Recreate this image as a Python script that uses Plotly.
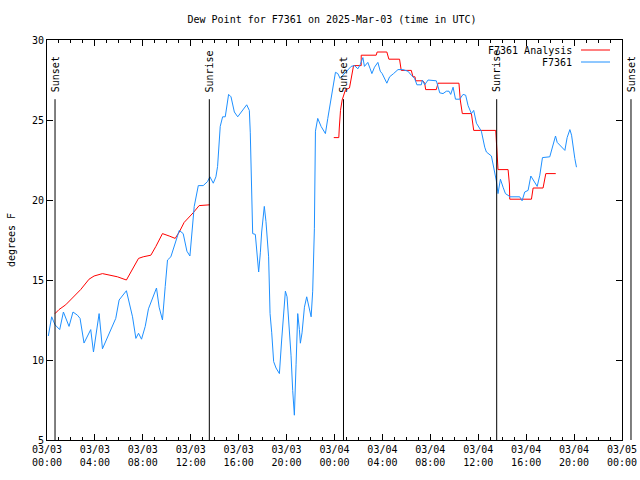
import pandas as pd
import plotly.graph_objects as go

base = pd.Timestamp("2025-03-03 00:00")

# Observations (F7361): hours since 03/03 00:00 UTC, dew point degF
obs_hours = [0.11, 0.39, 0.67, 1.06, 1.37, 1.6, 1.84, 2.17, 2.54, 2.76, 3.09, 3.65, 3.88, 4.35, 4.63,
             5.74, 6.02, 6.63, 7.14, 7.42, 7.64, 7.89, 8.2, 8.47, 9.14, 9.36, 9.64, 9.87, 10.06, 10.34,
             11.04, 11.37, 11.68, 11.93, 12.1, 12.29, 12.63, 13.04, 13.4, 13.6, 13.88, 14.1, 14.24,
             14.46, 14.66, 14.88, 15.16, 15.36, 15.64, 15.92, 16.67, 16.89, 16.97, 17.03, 17.11, 17.17,
             17.39, 17.5, 17.67, 17.81, 17.92, 18.14, 18.28, 18.5, 18.62, 18.76, 18.92, 19.12, 19.4,
             19.59, 19.76, 19.9, 20.04, 20.18, 20.37, 20.51, 20.65, 20.79, 20.93, 21.07, 21.15, 21.29,
             21.49, 21.68, 21.85, 22.05, 22.18, 22.32, 22.41, 22.6, 22.88, 23.24, 23.44, 23.72, 23.94,
             24.08, 24.28, 24.47, 24.64, 24.83, 25.11, 25.39, 25.67, 25.95, 26.14, 26.37, 26.5, 26.64,
             26.78, 26.98, 27.12, 27.34, 27.62, 27.82, 27.98, 28.37, 28.6, 28.93, 29.3, 29.71, 30.13,
             30.41, 30.69, 30.88, 31.25, 31.33, 31.53, 31.81, 32.5, 32.64, 32.78, 33.06, 33.34, 33.56,
             33.7, 33.9, 34.1, 34.45, 34.73, 34.95, 35.15, 35.43, 35.62, 35.85, 36.26, 36.54, 36.68,
             37.1, 37.29, 37.51, 37.65, 37.85, 38.07, 38.27, 38.57, 38.63, 39.46, 39.66, 39.88, 40.16,
             40.39, 40.64, 40.92, 41.14, 41.36, 41.97, 42.2, 42.45, 42.59, 43.09, 43.23, 43.42, 43.65,
             43.79, 43.93, 44.06, 44.2]
obs_values = [11.5, 12.7, 12.2, 11.9, 13.0, 12.6, 12.1, 13.0, 12.8, 12.6, 11.06, 11.9, 10.5, 12.9, 10.7,
              12.6, 13.75, 14.33, 12.7, 11.35, 11.67, 11.3, 12.1, 13.2, 14.5, 13.3, 12.5, 14.6, 16.25, 16.45,
              18.1, 17.9, 16.8, 16.5, 17.9, 19.6, 20.9, 20.9, 21.15, 21.45, 21.05, 21.45, 22.1,
              24.6, 25.2, 25.2, 26.6, 26.45, 25.5, 25.2, 25.95, 25.6, 24.2, 21.7, 19.2, 17.9,
              17.85, 16.7, 15.5, 16.7, 18.0, 19.6, 18.65, 16.45, 12.9, 11.7, 9.9, 9.5, 9.15,
              11.25, 12.7, 14.3, 13.95, 12.5, 10.3, 8.1, 6.55, 9.7, 12.9, 11.9, 11.05, 11.7,
              13.3, 13.95, 13.3, 12.7, 14.3, 18.2, 24.3, 25.1, 24.6, 24.15, 25.1, 26.35, 27.1,
              27.98, 27.9, 27.6, 27.75, 27.9, 28.1, 28.35, 28.4, 28.2, 28.45, 28.9, 28.35, 28.5,
              28.6, 28.2, 27.9, 28.3, 28.6, 28.05, 27.9, 27.3, 27.7, 27.9, 28.15, 28.15, 28.05,
              27.8, 27.6, 27.2, 27.2, 27.5, 27.2, 27.5, 27.45, 27.1, 26.7, 26.65, 26.8, 26.8,
              26.6, 27.05, 26.3, 26.3, 26.6, 26.55, 25.9, 25.4, 25.6, 24.8, 24.3, 23.3, 23.0,
              22.75, 22.1, 21.2, 20.4, 21.3, 20.8, 20.4, 20.25, 20.2, 20.2, 19.95, 20.5, 20.6,
              21.5, 21.15, 20.85, 21.55, 22.65, 22.7, 23.25, 24.0, 23.6, 23.25, 23.1, 23.9, 24.4,
              24.05, 23.1, 22.6, 22.05]

# Analysis (F7361 Analysis); None marks the gap
ana_hours = [0.67, 1.0, 1.56, 2.12, 2.81, 3.51, 3.93, 4.63, 5.18, 5.88, 6.63, 7.14, 7.64, 8.03, 8.67,
             9.09, 9.64, 10.2, 10.7, 11.04, 11.45, 12.2, 12.7, 13.6, 18.0,
             23.94, 24.36, 24.4, 24.5, 24.64, 24.92, 25.25, 25.47, 25.59, 26.23, 26.23, 27.48, 27.56,
             28.37, 28.54, 29.43, 29.57, 30.41, 30.55, 30.72, 30.77, 31.38, 31.53, 31.61, 32.5, 32.64,
             34.39, 34.5, 34.67, 35.43, 35.62, 37.46, 37.52, 37.65, 38.49, 38.6, 38.63, 40.44, 40.58,
             41.41, 41.64, 42.47]
ana_values = [12.9, 13.15, 13.45, 13.85, 14.4, 15.05, 15.25, 15.4, 15.3, 15.2, 15.0, 15.65, 16.35, 16.45, 16.55,
              17.1, 17.9, 17.75, 17.6, 18.0, 18.6, 19.2, 19.65, 19.7, None,
              23.9, 23.9, 24.5, 25.6, 26.25, 26.9, 27.0, 27.9, 28.4, 28.4, 29.05, 29.05, 29.25,
              29.25, 28.8, 28.8, 28.1, 28.1, 27.7, 27.7, 27.45, 27.45, 27.3, 26.9, 26.9, 27.3,
              27.3, 26.25, 25.4, 25.4, 24.35, 24.35, 23.25, 21.9, 21.9, 21.0, 20.05, 20.05, 20.75,
              20.75, 21.65, 21.65]

# Sun events (hours since 03/03 00:00)
sun_labels = ["Sunset", "Sunrise", "Sunset", "Sunrise", "Sunset"]
sun_hours = [0.67, 13.55, 24.75, 37.54, 48.75]

x_start, x_end = 0, 48
y_min, y_max = 5, 30

def to_time(hs):
    return [base + pd.Timedelta(hours=h) for h in hs]

FONT = "DejaVu Sans Mono"
fig = go.Figure()
fig.add_trace(go.Scatter(x=to_time(ana_hours), y=ana_values, mode="lines",
                         line=dict(color="#ff0000", width=1), name="F7361 Analysis",
                         connectgaps=False, showlegend=False))
fig.add_trace(go.Scatter(x=to_time(obs_hours), y=obs_values, mode="lines",
                         line=dict(color="#1e90ff", width=1), name="F7361", showlegend=False))

line_top = 26.3
for lab, h in zip(sun_labels, sun_hours):
    px = (h - x_start) / (x_end - x_start)
    py = (line_top - y_min) / (y_max - y_min)
    fig.add_shape(type="line", xref="paper", yref="paper", x0=px, x1=px, y0=0, y1=py,
                  line=dict(color="black", width=1))
    fig.add_annotation(xref="paper", yref="paper", x=px, y=py, text=lab, textangle=-90,
                       showarrow=False, xanchor="center", yanchor="bottom", yshift=5,
                       font=dict(family=FONT, size=10, color="black"))

# Legend drawn as text + line samples (text on the left, sample on the right)
W, H = 640, 480
ml, mr, mt, mb = 47, 18, 40, 40
pw, ph = W - ml - mr, H - mt - mb
leg = [("F7361 Analysis", "#ff0000", 50), ("F7361", "#1e90ff", 62)]
for name, col, ypx in leg:
    yp = 1 - (ypx - mt) / ph
    fig.add_annotation(xref="paper", yref="paper", x=(574 - ml) / pw, y=yp, text=name,
                       showarrow=False, xanchor="right", yanchor="middle",
                       font=dict(family=FONT, size=10, color="black"))
    fig.add_shape(type="line", xref="paper", yref="paper", x0=(581 - ml) / pw, x1=(610 - ml) / pw,
                  y0=yp, y1=yp, line=dict(color=col, width=1))

fig.update_layout(
    width=W, height=H,
    margin=dict(l=ml, r=mr, t=mt, b=mb),
    paper_bgcolor="white", plot_bgcolor="white",
    font=dict(family=FONT, size=10, color="black"),
    title=dict(text="Dew Point for F7361 on 2025-Mar-03 (time in UTC)", x=(332) / W, xanchor="center",
               y=1 - 19 / H, yanchor="middle", yref="container",
               font=dict(family=FONT, size=10, color="black")),
    showlegend=False,
)
fig.update_xaxes(
    type="date",
    range=[base + pd.Timedelta(hours=x_start), base + pd.Timedelta(hours=x_end)],
    dtick=4 * 3600 * 1000, tick0=base, tickformat="%m/%d<br>%H:%M",
    ticks="inside", ticklen=6, tickcolor="black", showline=True, linecolor="black", linewidth=1,
    mirror="ticks", showgrid=False, zeroline=False,
    minor=dict(dtick=3600 * 1000, ticks="inside", ticklen=3, tickcolor="black", showgrid=False),
    tickfont=dict(family=FONT, size=10, color="black"), automargin=False,
)
fig.update_yaxes(
    range=[y_min, y_max], dtick=5, ticks="inside", ticklen=6, tickcolor="black",
    showline=True, linecolor="black", linewidth=1, mirror="ticks", showgrid=False, zeroline=False,
    title=dict(text="degrees F", font=dict(family=FONT, size=10, color="black"), standoff=14),
    tickfont=dict(family=FONT, size=10, color="black"), automargin=False,
)

fig.write_html("out.html", config={"displayModeBar": False},
               post_script="document.body.style.margin='0';")
